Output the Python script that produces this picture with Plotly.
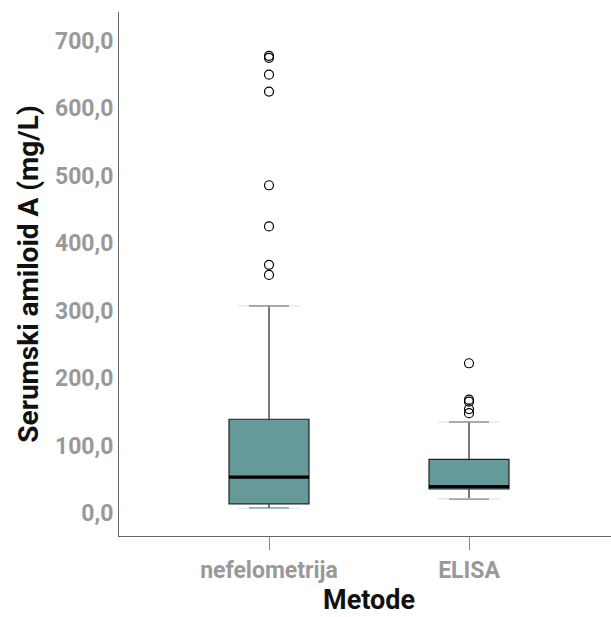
import plotly.graph_objects as go

# Summary statistics per method (mg/L)
methods = ["nefelometrija", "ELISA"]
q1 = [13.5, 35.5]
median = [53.0, 39.0]
q3 = [139.0, 79.5]
lower_fence = [7.0, 21.0]
upper_fence = [307.0, 135.0]
outliers = [
    [678.0, 675.0, 650.0, 625.0, 486.0, 425.0, 368.0, 353.0],
    [222.0, 168.0, 165.0, 154.0, 148.0],
]

positions = list(range(len(methods)))
box_width = 0.4
cap_halo = 0.155
fill = "#669999"

fig = go.Figure()

for i, name in enumerate(methods):
    x = positions[i]
    # faint halo behind each whisker cap
    for v in (lower_fence[i], upper_fence[i]):
        fig.add_trace(go.Scatter(
            x=[x - cap_halo, x + cap_halo], y=[v, v], mode="lines",
            line=dict(color="#cfe2f3", width=1), hoverinfo="skip", showlegend=False))
    fig.add_trace(go.Box(
        x=[x], q1=[q1[i]], median=[median[i]], q3=[q3[i]],
        lowerfence=[lower_fence[i]], upperfence=[upper_fence[i]],
        width=box_width, whiskerwidth=0.5, fillcolor=fill,
        line=dict(color="#222222", width=1.2), boxpoints=False,
        name=name, showlegend=False))
    # bold median bar
    fig.add_trace(go.Scatter(
        x=[x - box_width / 2, x + box_width / 2], y=[median[i], median[i]],
        mode="lines", line=dict(color="black", width=3.2),
        hoverinfo="skip", showlegend=False))
    fig.add_trace(go.Scatter(
        x=[x] * len(outliers[i]), y=outliers[i], mode="markers",
        marker=dict(symbol="circle-open", size=9, color="black",
                    line=dict(width=1.2)),
        showlegend=False))

fig.update_layout(
    width=611, height=617,
    margin=dict(l=119, r=0, t=12, b=81),
    paper_bgcolor="white", plot_bgcolor="white",
    separators=", ",
    font=dict(family="Roboto", color="#999999"),
    showlegend=False,
)
fig.update_xaxes(
    range=[-0.75, 1.71], tickmode="array", tickvals=positions, ticktext=methods,
    showgrid=False, zeroline=False, showline=True, linecolor="#666666", linewidth=1,
    ticks="outside", ticklen=13, tickcolor="#888888", tickwidth=1,
    tickfont=dict(family="Roboto", size=23, color="#999999", weight="bold"),
)
fig.update_yaxes(
    range=[-34.2, 743], tickvals=[0, 100, 200, 300, 400, 500, 600, 700],
    tickformat=".1f", showgrid=False, zeroline=False,
    showline=True, linecolor="#666666", linewidth=1, ticks="", ticklen=0,
    tickfont=dict(family="Roboto", size=23, color="#999999", weight="bold"),
    title=dict(text="Serumski amiloid A (mg/L)", standoff=8,
               font=dict(family="Roboto", size=28, color="#111111", weight="bold")),
)
# x-axis title sitting on the bottom edge of the figure
fig.add_annotation(
    text="Metode", xref="x", yref="paper", x=sum(positions) / len(positions),
    y=-81 / 524, yanchor="bottom", showarrow=False, borderpad=0,
    font=dict(family="Roboto", size=27, color="#111111", weight="bold"),
)

fig.write_html("out.html")
